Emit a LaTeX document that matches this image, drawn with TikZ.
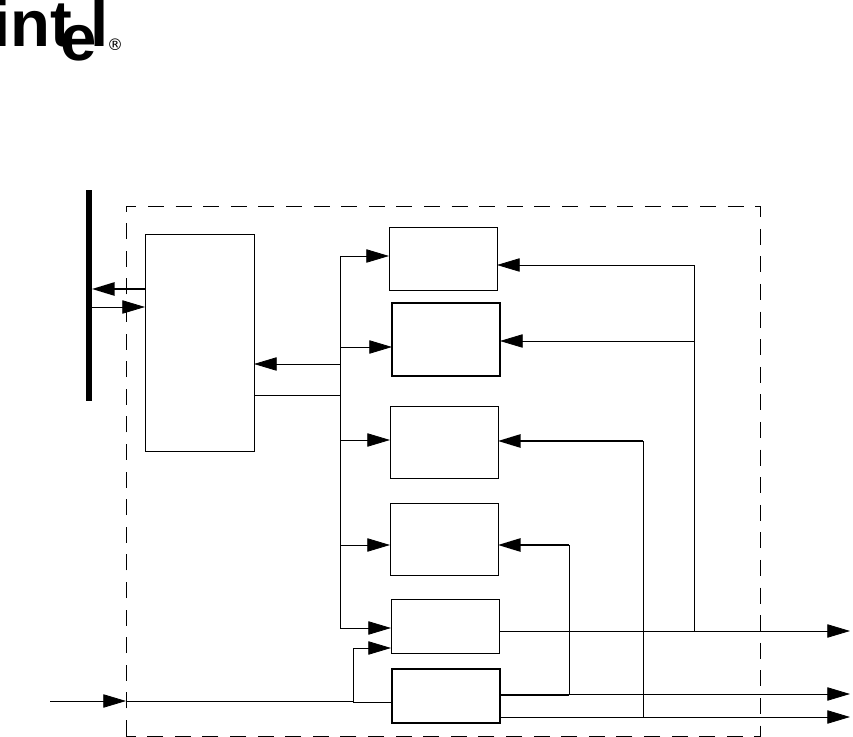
\documentclass[tikz,border=0pt]{standalone}
\usepackage{fontspec}
\setmainfont{Liberation Sans}
\newfontfamily\symbfont{DejaVu Sans}
\usetikzlibrary{arrows.meta}
\tikzset{
  block/.style={draw, line width=0.7pt, inner sep=0pt, outer sep=0pt, anchor=north west},
  heavyblock/.style={block, line width=1.3pt},
  wire/.style={line width=0.6pt},
  heavywire/.style={line width=1.3pt},
  sig/.style={wire, -{Triangle[length=17pt, width=10pt]}},
  heavysig/.style={heavywire, -{Triangle[length=17pt, width=10pt]}},
  logotext/.style={font=\fontsize{49}{49}\bfseries, inner sep=0pt, anchor=base west}
}

\begin{document}
\begin{tikzpicture}[x=0.75pt, y=-0.75pt]
\useasboundingbox (0,0) rectangle (853,737);

% Logo
\node[logotext] (logoint) at (-8,47) {int};
\node[logotext] (logoe) at (60,61) {e};
\node[logotext] (logol) at (90,47) {l};
\node[font=\symbfont\fontsize{12}{12}\selectfont, inner sep=0pt] (logoreg) at (115,45) {®};

% Bus and dashed outline
\fill (86,190) rectangle (92,401);
\coordinate (buslow) at (92,307);
\coordinate (bushigh) at (92,289);
\draw[wire, dash pattern=on 12pt off 8.7pt] (126,736) -- (126,206) -- (760,206) -- (760,736) -- cycle;

% ================================================================
% Blocks
% ================================================================
\node[block, minimum width=81.75pt, minimum height=162.75pt] (hostbox) at (145,234) {};
\node[block, minimum width=81pt, minimum height=47.25pt] (boxa) at (389,227) {};
\node[heavyblock, minimum width=81pt, minimum height=54.75pt] (boxb) at (392,303) {};
\node[block, minimum width=81pt, minimum height=54pt] (boxc) at (390,406) {};
\node[block, minimum width=81pt, minimum height=54pt] (boxd) at (390,503) {};
\node[block, minimum width=81pt, minimum height=40.5pt] (boxe) at (391,599) {};
\node[heavyblock, minimum width=81pt, minimum height=40.5pt] (boxf) at (392,669) {};

% ================================================================
% Left side
% ================================================================
\draw[heavysig] (hostbox.west |- bushigh) -- (bushigh);
\draw[sig] (buslow) -- (hostbox.west |- buslow);

\coordinate (tapin) at (340,364);
\coordinate (tapout) at (340,395);
\draw[sig] (tapin) -- (hostbox.east |- tapin);
\draw[wire] (hostbox.east |- tapout) -- (tapout);

% Fan out to the blocks
\coordinate (tapa) at (340,256);
\coordinate (tapb) at (340,347);
\coordinate (tapc) at (340,440);
\coordinate (tapd) at (340,545);
\coordinate (tape) at (340,628);
\draw[wire] (tapa) -- (tape);
\draw[sig] (tapa) -- (boxa.west |- tapa);
\draw[sig] (tapb) -- (boxb.west |- tapb);
\draw[sig] (tapc) -- (boxc.west |- tapc);
\draw[sig] (tapd) -- (boxd.west |- tapd);
\draw[sig] (tape) -- (boxe.west |- tape);

% ================================================================
% Right side
% ================================================================
\coordinate (outa) at (850,631);
\coordinate (outb) at (850,694);
\coordinate (outc) at (850,717);
\coordinate (risea) at (694,631);
\coordinate (riseb) at (569,695);
\coordinate (risec) at (643,717);

\draw[sig] (boxe.east |- outa) -- (outa);
\draw[heavywire] (boxf.east |- riseb) -- (riseb);
\draw[sig] (riseb |- outb) -- (outb);
\draw[sig] (boxf.east |- outc) -- (outc);

\coordinate (feeda) at (694,265);
\coordinate (feedb) at (694,341);
\coordinate (feedc) at (643,441);
\coordinate (feedd) at (569,545);
\draw[wire] (risea) -- (feeda);
\draw[wire] (risec) -- (feedc);
\draw[wire] (riseb) -- (feedd);
\draw[sig] (feeda) -- (boxa.east |- feeda);
\draw[sig] (feedb) -- (boxb.east |- feedb);
\draw[heavysig] (feedc) -- (boxc.east |- feedc);
\draw[heavysig] (feedd) -- (boxd.east |- feedd);

% ================================================================
% Input
% ================================================================
\coordinate (inleft) at (50,701);
\coordinate (inedge) at (126,701);
\coordinate (injoin) at (353,702);
\coordinate (inup) at (353,648);
\draw[sig] (inleft) -- (inedge);
\draw[wire] (inedge) -- (353,701) -- (injoin) -- (boxf.west |- injoin);
\draw[wire] (injoin) -- (inup);
\draw[sig] (inup) -- (boxe.west |- inup);

\end{tikzpicture}
\end{document}
